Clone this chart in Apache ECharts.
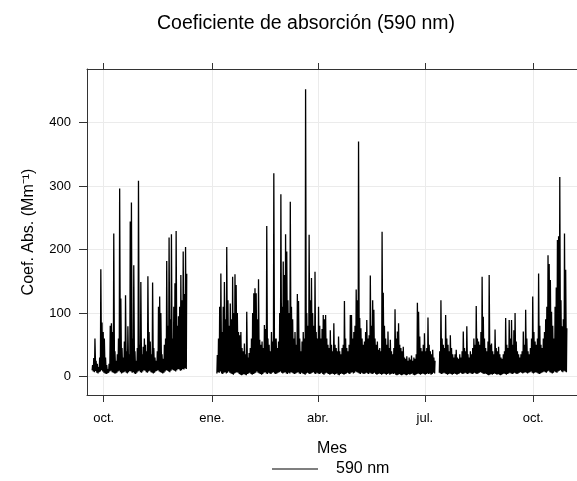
<!DOCTYPE html>
<html>
<head>
<meta charset="utf-8">
<script src="https://cdn.jsdelivr.net/npm/echarts@6/dist/echarts.min.js"></script>
<style>html,body{margin:0;padding:0;background:#fff}#c{width:577px;height:481px}</style>
</head>
<body>
<div id="c"></div>
<script>
// ---- Data (daily estimates) ----
const chartTitle = 'Coeficiente de absorción (590 nm)';
const seriesName = '590 nm';
const xTickDates = ['2017-10-01', '2018-01-01', '2018-04-01', '2018-07-01', '2018-10-01'];
const xTickLabels = ['oct.', 'ene.', 'abr.', 'jul.', 'oct.'];
const yTicks = [0, 100, 200, 300, 400];

// segment 1: starts 2017-09-21
const seg1Start = '2017-09-21';
const seg1Peak = [
  18, 29, 60, 25, 20, 15, 30, 169, 85, 70,
  60, 30, 18, 12, 20, 80, 84, 70, 225, 40,
  25, 35, 60, 296, 123, 45, 30, 55, 128, 40,
  79, 35, 244, 274, 60, 175, 40, 25, 45, 308,
  50, 149, 35, 47, 60, 50, 40, 158, 70, 55,
  35, 148, 45, 30, 25, 40, 110, 126, 100, 35,
  28, 50, 60, 182, 80, 219, 90, 224, 60, 110,
  147, 229, 80, 95, 110, 160, 120, 197, 130, 204,
  162
];
const seg1Low = [
  10, 8, 7, 9, 6, 5, 7, 8, 10, 8,
  6, 5, 4, 5, 6, 8, 9, 7, 6, 5,
  5, 6, 8, 9, 7, 5, 6, 7, 8, 6,
  5, 7, 9, 8, 6, 7, 5, 4, 6, 8,
  9, 7, 6, 8, 10, 9, 7, 6, 8, 9,
  7, 6, 5, 6, 8, 9, 10, 8, 7, 6,
  5, 6, 8, 10, 9, 8, 7, 9, 11, 10,
  9, 8, 10, 12, 11, 9, 10, 12, 11, 13,
  12
];

// segment 2: starts 2018-01-05
const seg2Start = '2018-01-05';
const seg2Peak = [
  34, 60, 110, 162, 70, 110, 149, 90, 204, 120,
  80, 115, 90, 157, 100, 161, 144, 100, 70, 65,
  70, 45, 40, 52, 35, 102, 30, 37, 45, 60,
  100, 131, 139, 131, 90, 153, 58, 50, 55, 45,
  81, 75, 237, 60, 50, 40, 70, 55, 320, 60,
  60, 45, 55, 100, 287, 110, 181, 160, 224, 197,
  120, 100, 275, 110, 90, 60, 70, 50, 130, 119,
  60, 40, 55, 70, 60, 452, 100, 80, 223, 120,
  155, 100, 80, 165, 70, 60, 110, 80, 60, 75,
  97, 90, 97, 60, 50, 45, 73, 50, 40, 84,
  50, 45, 40, 63, 40, 35, 45, 50, 119, 60,
  45, 40, 50, 97, 97, 60, 70, 80, 137, 120,
  370, 92, 76, 60, 50, 55, 70, 89, 60, 65,
  159, 80, 120, 105, 60, 50, 55, 42, 45, 40,
  228, 132, 80, 60, 50, 71, 45, 58, 40, 35,
  45, 106, 60, 71, 84, 50, 45, 40, 47, 30,
  28, 32, 25, 30, 27, 33, 25, 30, 28, 35,
  116, 102, 63, 45, 40, 50, 68, 40, 45, 93,
  50, 40, 35, 42, 30, 25
];
const seg2Low = [
  5, 7, 6, 8, 5, 4, 6, 7, 5, 6,
  8, 6, 5, 4, 3, 5, 6, 7, 6, 4,
  3, 2, 3, 4, 3, 2, 4, 5, 6, 4,
  3, 4, 5, 6, 8, 6, 5, 4, 3, 4,
  6, 7, 5, 4, 6, 5, 4, 6, 7, 5,
  4, 5, 6, 7, 8, 6, 5, 6, 7, 5,
  4, 6, 5, 7, 6, 5, 4, 5, 6, 7,
  5, 4, 6, 5, 4, 3, 5, 6, 5, 4,
  5, 6, 7, 5, 4, 6, 5, 4, 5, 6,
  4, 3, 5, 6, 5, 4, 3, 4, 5, 4,
  3, 4, 5, 3, 2, 4, 5, 4, 3, 4,
  5, 6, 5, 4, 6, 7, 5, 6, 8, 7,
  6, 5, 4, 6, 5, 4, 5, 6, 5, 4,
  6, 5, 4, 5, 6, 4, 3, 4, 5, 4,
  3, 4, 5, 4, 3, 4, 5, 3, 4, 5,
  4, 5, 3, 2, 3, 4, 3, 2, 3, 4,
  3, 2, 3, 4, 3, 4, 5, 3, 2, 3,
  4, 5, 4, 3, 4, 5, 4, 3, 4, 5,
  4, 5, 3, 4, 6, 5
];

// segment 3: starts 2018-07-13
const seg3Start = '2018-07-13';
const seg3Peak = [
  40, 120, 60, 50, 45, 97, 60, 50, 40, 65,
  45, 35, 30, 35, 42, 30, 28, 35, 30, 40,
  71, 45, 40, 79, 35, 30, 40, 35, 45, 60,
  50, 111, 60, 55, 50, 70, 157, 94, 60, 45,
  40, 55, 160, 50, 52, 40, 35, 74, 45, 40,
  47, 35, 30, 28, 35, 40, 92, 50, 45, 89,
  60, 89, 50, 73, 100, 55, 40, 35, 30, 35,
  40, 71, 50, 105, 60, 40, 35, 45, 60, 126,
  70, 55, 50, 60, 162, 80, 50, 45, 60, 70,
  90, 110, 191, 177, 152, 102, 80, 60, 110, 140,
  215, 221, 314, 120, 79, 90, 225, 168, 76
];
const seg3Low = [
  6, 5, 4, 5, 6, 5, 4, 3, 4, 5,
  4, 3, 4, 5, 4, 3, 4, 5, 6, 5,
  4, 5, 6, 5, 4, 5, 6, 5, 4, 5,
  6, 5, 4, 5, 6, 7, 6, 5, 4, 5,
  4, 3, 2, 3, 4, 3, 4, 5, 4, 3,
  4, 3, 2, 3, 4, 5, 4, 3, 4, 5,
  6, 5, 4, 5, 6, 5, 4, 5, 6, 7,
  6, 5, 6, 7, 6, 5, 6, 7, 8, 6,
  5, 6, 7, 6, 5, 4, 5, 6, 7, 8,
  7, 6, 8, 9, 7, 6, 5, 6, 8, 7,
  6, 8, 9, 10, 8, 7, 9, 8, 7
];

// axis extent (dates)
const xMinDate = '2017-09-16T21:00:00';
const xMaxDate = '2018-11-07T06:00:00';
const yMin = -29;
const yMax = 484;

// ---- Build ----
const DAY = 86400000;
function t(s) { return new Date(s.length === 10 ? s + 'T00:00:00' : s).getTime(); }
function buildSeg(start, low, peak) {
  const out = [];
  const t0 = t(start);
  for (let i = 0; i < peak.length; i++) {
    out.push([t0 + i * DAY + 0.25 * DAY, low[i]]);
    out.push([t0 + i * DAY + 0.62 * DAY, peak[i]]);
  }
  return out;
}
const s1 = buildSeg(seg1Start, seg1Low, seg1Peak);
const s2 = buildSeg(seg2Start, seg2Low, seg2Peak);
const s3 = buildSeg(seg3Start, seg3Low, seg3Peak);
const data = s1.concat([[s1[s1.length - 1][0] + DAY, null]], s2, [[s2[s2.length - 1][0] + DAY, null]], s3);

const xTickTimes = xTickDates.map(t);
const FONT = '"Liberation Sans", Arial, sans-serif';

const chart = echarts.init(document.getElementById('c'), null, { renderer: 'canvas' });
chart.setOption({
  animation: false,
  backgroundColor: '#fff',
  title: {
    text: chartTitle,
    left: 301,
    top: 9,
    textAlign: 'center',
    textStyle: { fontFamily: FONT, fontSize: 19.5, fontWeight: 'normal', color: '#000' }
  },
  legend: {
    data: [{ name: seriesName, icon: 'rect' }],
    left: 272,
    top: 461,
    padding: 0,
    itemWidth: 46,
    itemHeight: 1.2,
    itemStyle: { color: '#000' },
    textStyle: { fontFamily: FONT, fontSize: 16, color: '#000', padding: [0, 0, 0, 13] }
  },
  grid: { left: 87, right: -3, top: 69, bottom: 86, containLabel: false },
  xAxis: [{
    type: 'value',
    position: 'bottom',
    min: t(xMinDate),
    max: t(xMaxDate),
    name: 'Mes',
    nameLocation: 'middle',
    nameGap: 46,
    nameTextStyle: { fontFamily: FONT, fontSize: 16, color: '#000' },
    axisLine: { show: true, onZero: false, lineStyle: { color: '#333', width: 1 } },
    axisTick: { show: true, customValues: xTickTimes, length: 7, lineStyle: { color: '#333' } },
    axisLabel: {
      show: true, customValues: xTickTimes, margin: 17,
      fontFamily: FONT, fontSize: 13, color: '#000',
      formatter: function (v) { const i = xTickTimes.indexOf(v); return i >= 0 ? xTickLabels[i] : ''; }
    },
    splitLine: { show: true, lineStyle: { color: '#ebebeb', width: 1 } }
  }, {
    type: 'value',
    position: 'top',
    min: t(xMinDate),
    max: t(xMaxDate),
    axisLine: { show: true, onZero: false, lineStyle: { color: '#333', width: 1 } },
    axisTick: { show: true, customValues: xTickTimes, length: 6, lineStyle: { color: '#333' } },
    axisLabel: { show: false },
    splitLine: { show: false }
  }],
  yAxis: {
    type: 'value',
    min: yMin,
    max: yMax,
    name: 'Coef. Abs. (Mm⁻¹)',
    nameLocation: 'middle',
    nameGap: 50,
    nameRotate: 90,
    nameTextStyle: { fontFamily: FONT, fontSize: 16, color: '#000' },
    axisLine: { show: true, onZero: false, lineStyle: { color: '#333', width: 1 } },
    axisTick: { show: true, customValues: yTicks, length: 8, lineStyle: { color: '#333' } },
    axisLabel: { show: true, customValues: yTicks, margin: 16, fontFamily: FONT, fontSize: 13, color: '#000' },
    splitLine: { show: true, lineStyle: { color: '#ebebeb', width: 1 } }
  },
  series: [{
    name: seriesName,
    type: 'line',
    xAxisIndex: 0,
    data: data,
    showSymbol: false,
    symbol: 'none',
    connectNulls: false,
    lineStyle: { color: '#000', width: 1.3 },
    itemStyle: { color: '#000' }
  }]
});
</script>
</body>
</html>
